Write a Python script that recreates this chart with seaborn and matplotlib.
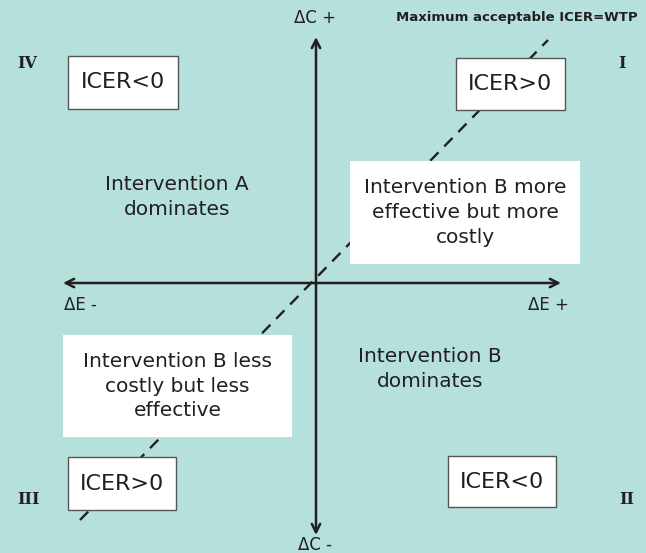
import matplotlib
matplotlib.use("Agg")
import matplotlib.pyplot as plt
from matplotlib.patches import Rectangle
import pandas as pd
import seaborn as sns

# ---------------------------------------------------------------------------
# Diagram content (cost-effectiveness plane)
# ---------------------------------------------------------------------------
quadrant_labels = ["I", "II", "III", "IV"]
icer_labels = ["ICER>0", "ICER<0", "ICER>0", "ICER<0"]   # same order as quadrants
region_texts = ["Intervention B more\neffective but more\ncostly",
                "Intervention B\ndominates",
                "Intervention B less\ncostly but less\neffective",
                "Intervention A\ndominates"]
axis_labels = ["\u0394C +", "\u0394C -", "\u0394E -", "\u0394E +"]
wtp_title = "Maximum acceptable ICER=WTP"

# willingness-to-pay threshold line (delta effect, delta cost)
wtp_effect = [-236, 232]
wtp_cost = [-237, 243]

BG = "#b5e0dc"
INK = "#231f20"

sns.set_theme(style="white")
plt.rcParams["font.family"] = ["DejaVu Sans"]

fig = plt.figure(figsize=(6.46, 5.53), dpi=100, facecolor=BG)
ax = fig.add_axes([0, 0, 1, 1])
ax.set_facecolor(BG)
ax.set_xlim(-316, 330)
ax.set_ylim(-270, 283)
ax.axis("off")

# WTP dashed line
wtp = pd.DataFrame({"effect": wtp_effect, "cost": wtp_cost})
sns.lineplot(data=wtp, x="effect", y="cost", ax=ax, color=INK, lw=1.7,
             dashes=False, zorder=1)
ax.lines[-1].set_dashes([5, 3.5])

# axes arrows
arrow = dict(arrowstyle="->", color=INK, lw=1.8, mutation_scale=15,
             shrinkA=0, shrinkB=0)
ax.annotate("", xy=(-253, 0), xytext=(0, 0), arrowprops=arrow, zorder=2)
ax.annotate("", xy=(245, 0), xytext=(0, 0), arrowprops=arrow, zorder=2)
ax.annotate("", xy=(0, 246), xytext=(0, 0), arrowprops=arrow, zorder=2)
ax.annotate("", xy=(0, -252), xytext=(0, 0), arrowprops=arrow, zorder=2)

# ICER boxes: (x0, x1, y0, y1)
icer_boxes = [(140, 249, 173, 225), (132, 240, -224, -173),
              (-248, -140, -227, -174), (-248, -138, 174, 227)]
for lab, (x0, x1, y0, y1) in zip(icer_labels, icer_boxes):
    ax.add_patch(Rectangle((x0, y0), x1 - x0, y1 - y0, facecolor="white",
                           edgecolor="#555555", lw=1.0, zorder=3))
    ax.text((x0 + x1) / 2, (y0 + y1) / 2, lab, ha="center", va="center",
            fontsize=16, color=INK, zorder=4)

# region descriptions
text_boxes = [(34, 264, 19, 122), None, (-253, -24, -154, -52), None]
text_pos = [None, (114, -86), None, (-139, 86)]
for txt, box, pos in zip(region_texts, text_boxes, text_pos):
    if box is not None:
        x0, x1, y0, y1 = box
        ax.add_patch(Rectangle((x0, y0), x1 - x0, y1 - y0, facecolor="white",
                               edgecolor="none", zorder=3))
        pos = ((x0 + x1) / 2, (y0 + y1) / 2)
    ax.text(pos[0], pos[1], txt, ha="center", va="center", fontsize=14.5,
            color=INK, linespacing=1.38, zorder=4)

# quadrant numerals
quad_pos = [(306, 219), (311, -216), (-287, -216), (-289, 219)]
for lab, (x, y) in zip(quadrant_labels, quad_pos):
    ax.text(x, y, lab, ha="center", va="center", fontsize=11.5,
            fontweight="bold", family="DejaVu Serif", color=INK)

# axis end labels
lab_pos = [(-1, 265), (-1, -262), (-236, -22), (232, -22)]
for lab, (x, y) in zip(axis_labels, lab_pos):
    ax.text(x, y, lab, ha="center", va="center", fontsize=12, color=INK)

ax.text(322, 265, wtp_title, ha="right", va="center", fontsize=9.5,
        fontweight="bold", color=INK)

fig.savefig("out.png", dpi=100, facecolor=BG)
